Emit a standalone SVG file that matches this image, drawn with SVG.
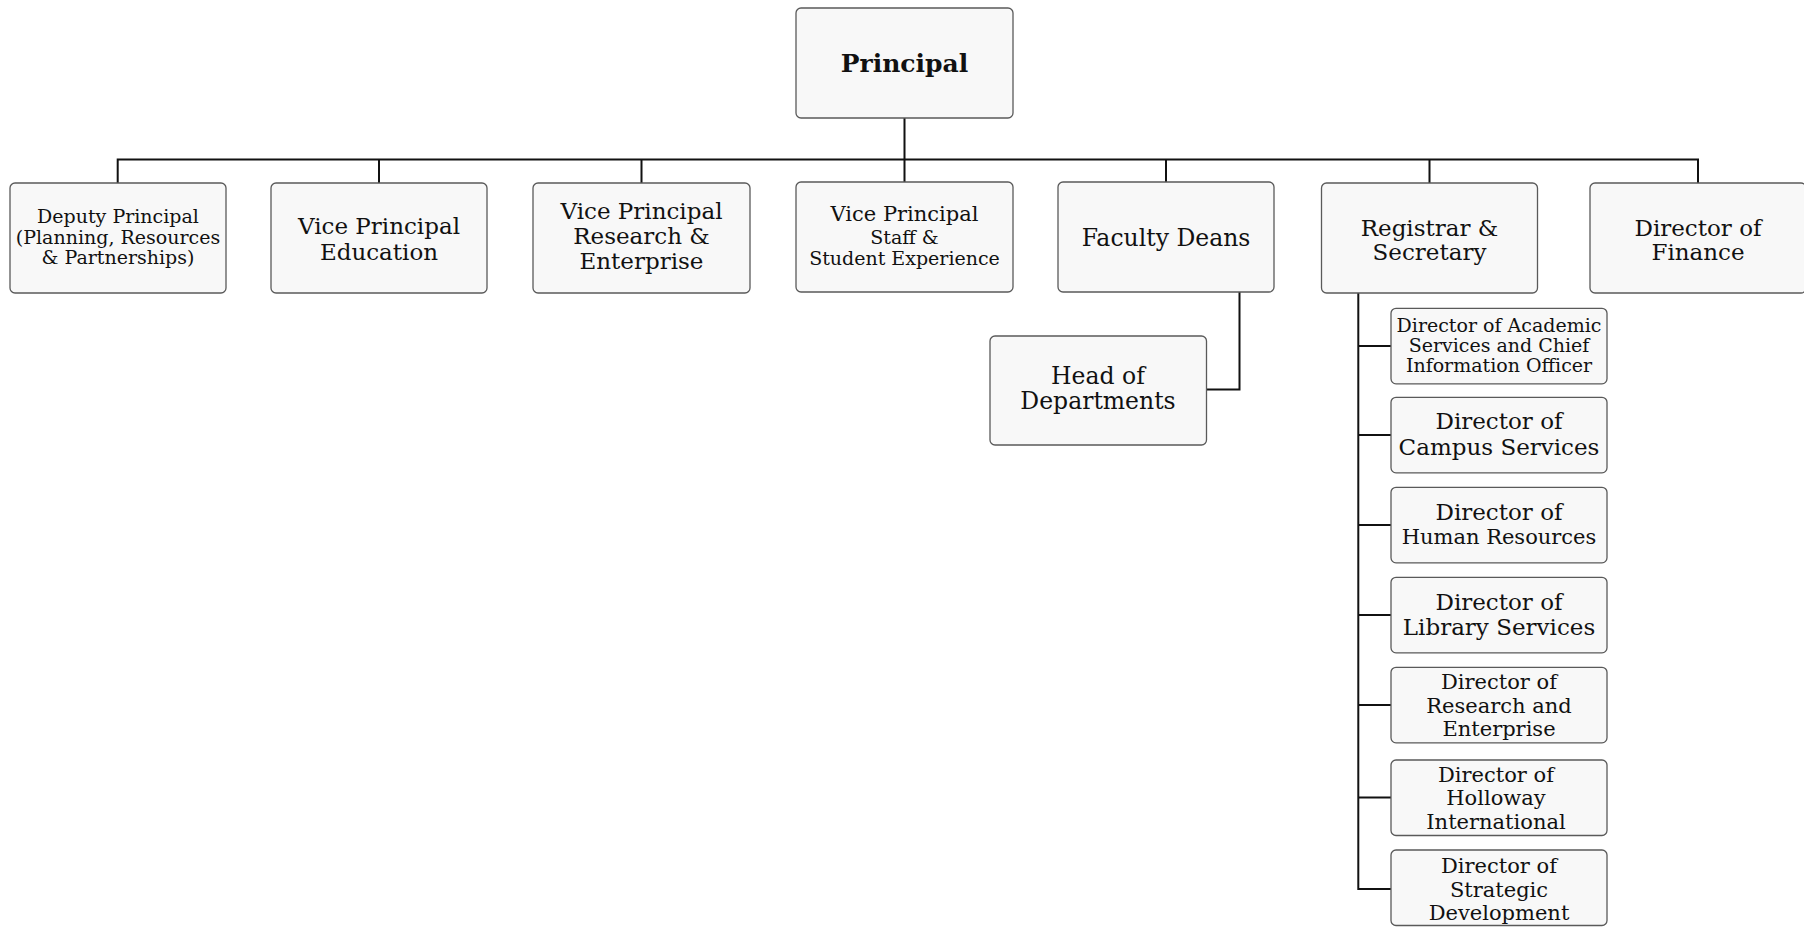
<svg xmlns="http://www.w3.org/2000/svg" width="1804" height="927" viewBox="0 0 1804 927">
  <style>
    .box { fill: #f8f8f8; stroke: #5a5a5a; stroke-width: 1.3; }
    .link { fill: none; stroke: #111; stroke-width: 2; }
    text { font-family: "DejaVu Serif", "Liberation Serif", serif; fill: #111; text-anchor: middle; }
    .b { font-weight: bold; }
  </style>
  <rect width="1804" height="927" fill="#ffffff"/>

  <!-- reporting lines -->
  <g id="connectors">
    <path class="link" d="M904.5 118 V159.5 M117.7 183 V159.5 H1698 V183 M379 159.5 V183 M641.5 159.5 V183 M904.5 159.5 V182 M1166 159.5 V182 M1429.5 159.5 V183"/>
    <path class="link" d="M1239.5 292 V389.5 H1206.5"/>
    <path class="link" d="M1358.3 293 V889 H1391 M1358.3 346 H1391 M1358.3 435 H1391 M1358.3 525 H1391 M1358.3 615 H1391 M1358.3 705 H1391 M1358.3 797.5 H1391"/>
  </g>

  <g id="principal">
    <rect class="box" x="796" y="8" width="217" height="110" rx="5"/>
    <text class="b" x="904.5" y="72" font-size="25">Principal</text>
  </g>

  <g id="deputy-principal">
    <rect class="box" x="10" y="183" width="216" height="110" rx="5"/>
    <text x="118" y="223" font-size="19">Deputy Principal</text>
    <text x="118" y="244" font-size="19">(Planning, Resources</text>
    <text x="118" y="264" font-size="19">&amp; Partnerships)</text>
  </g>

  <g id="vp-education">
    <rect class="box" x="271" y="183" width="216" height="110" rx="5"/>
    <text x="379" y="234" font-size="23">Vice Principal</text>
    <text x="379" y="260" font-size="23">Education</text>
  </g>

  <g id="vp-research">
    <rect class="box" x="533" y="183" width="217" height="110" rx="5"/>
    <text x="641.5" y="219" font-size="23">Vice Principal</text>
    <text x="641.5" y="244" font-size="23">Research &amp;</text>
    <text x="641.5" y="269" font-size="23">Enterprise</text>
  </g>

  <g id="vp-staff">
    <rect class="box" x="796" y="182" width="217" height="110" rx="5"/>
    <text x="904.5" y="221" font-size="21">Vice Principal</text>
    <text x="904.5" y="244" font-size="19">Staff &amp;</text>
    <text x="904.5" y="265" font-size="19">Student Experience</text>
  </g>

  <g id="faculty-deans">
    <rect class="box" x="1058" y="182" width="216" height="110" rx="5"/>
    <text x="1166" y="246" font-size="23.5">Faculty Deans</text>
  </g>

  <g id="registrar">
    <rect class="box" x="1321.5" y="183" width="216" height="110" rx="5"/>
    <text x="1429.5" y="236" font-size="23">Registrar &amp;</text>
    <text x="1429.5" y="260" font-size="23">Secretary</text>
  </g>

  <g id="director-finance">
    <rect class="box" x="1590" y="183" width="216" height="110" rx="5"/>
    <text x="1698" y="236" font-size="23">Director of</text>
    <text x="1698" y="260" font-size="23">Finance</text>
  </g>

  <g id="head-of-departments">
    <rect class="box" x="990" y="336" width="216.5" height="109" rx="5"/>
    <text x="1098" y="384" font-size="23.5">Head of</text>
    <text x="1098" y="409" font-size="23.5">Departments</text>
  </g>

  <g id="director-academic">
    <rect class="box" x="1391" y="308.3" width="216" height="75.5" rx="5"/>
    <text x="1499" y="332" font-size="19">Director of Academic</text>
    <text x="1499" y="352" font-size="19">Services and Chief</text>
    <text x="1499" y="372" font-size="19">Information Officer</text>
  </g>

  <g id="director-campus">
    <rect class="box" x="1391" y="397.3" width="216" height="75.5" rx="5"/>
    <text x="1499" y="429" font-size="23">Director of</text>
    <text x="1499" y="455" font-size="23">Campus Services</text>
  </g>

  <g id="director-hr">
    <rect class="box" x="1391" y="487.3" width="216" height="75.5" rx="5"/>
    <text x="1499" y="520" font-size="23">Director of</text>
    <text x="1499" y="543.5" font-size="21">Human Resources</text>
  </g>

  <g id="director-library">
    <rect class="box" x="1391" y="577.3" width="216" height="75.5" rx="5"/>
    <text x="1499" y="610" font-size="23">Director of</text>
    <text x="1499" y="635" font-size="23">Library Services</text>
  </g>

  <g id="director-research">
    <rect class="box" x="1391" y="667.3" width="216" height="75.5" rx="5"/>
    <text x="1499" y="689" font-size="21">Director of</text>
    <text x="1499" y="712.5" font-size="21">Research and</text>
    <text x="1499" y="736" font-size="21">Enterprise</text>
  </g>

  <g id="director-holloway">
    <rect class="box" x="1391" y="760" width="216" height="75.5" rx="5"/>
    <text x="1496" y="781.5" font-size="21">Director of</text>
    <text x="1496" y="805" font-size="21">Holloway</text>
    <text x="1496" y="828.5" font-size="21">International</text>
  </g>

  <g id="director-strategic">
    <rect class="box" x="1391" y="850" width="216" height="75.5" rx="5"/>
    <text x="1499" y="872.5" font-size="21">Director of</text>
    <text x="1499" y="896.5" font-size="21">Strategic</text>
    <text x="1499" y="920" font-size="21">Development</text>
  </g>
</svg>
